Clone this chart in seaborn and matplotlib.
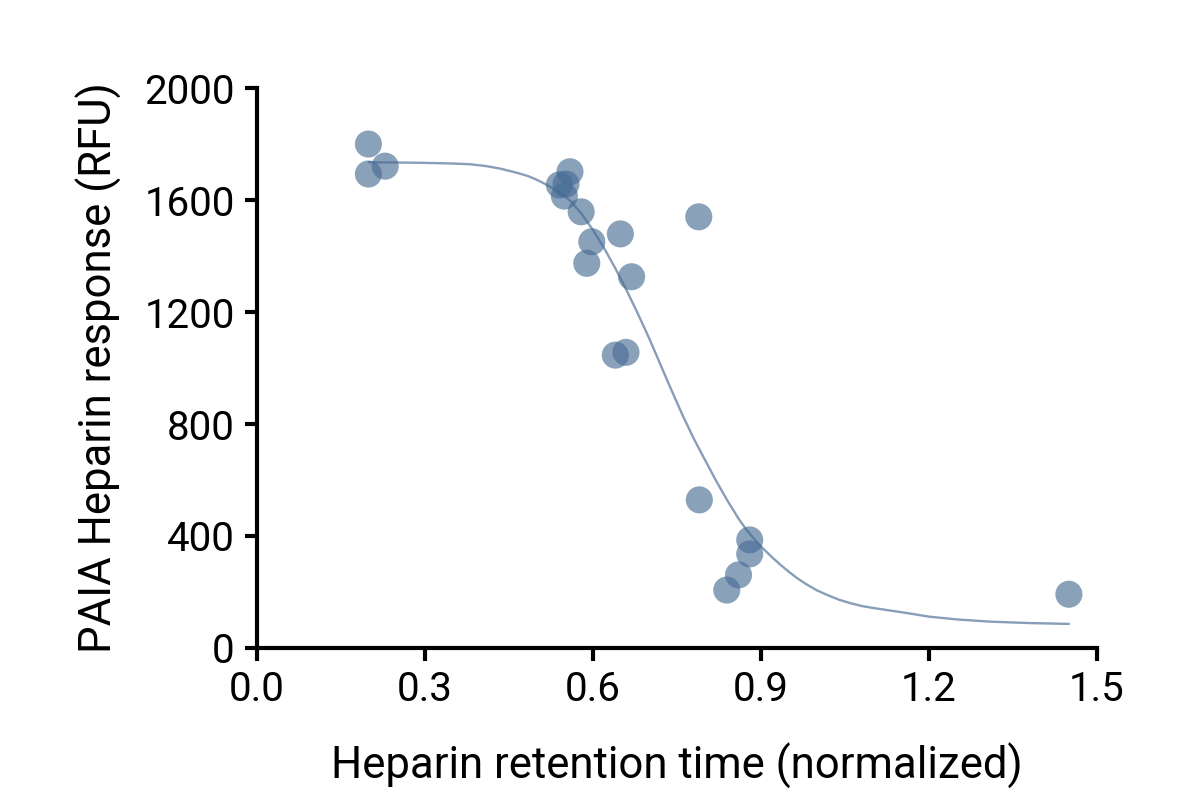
import numpy as np
import pandas as pd
import seaborn as sns
import matplotlib
matplotlib.use("Agg")
import matplotlib.pyplot as plt

retention = [0.199, 0.199, 0.229, 0.559, 0.540, 0.552, 0.549, 0.579, 0.598, 0.589,
             0.649, 0.669, 0.789, 0.640, 0.659, 0.790, 0.880, 0.880, 0.860, 0.839, 1.450]
response = [1800, 1693, 1721, 1701, 1654, 1657, 1614, 1558, 1451, 1374,
            1479, 1326, 1540, 1046, 1056, 529, 386, 336, 261, 207, 192]

# fitted curve
fit_x = [0.20, 0.25, 0.29, 0.34, 0.38, 0.41, 0.435, 0.455, 0.47, 0.485, 0.50, 0.515,
         0.53, 0.545, 0.56, 0.58, 0.60, 0.62, 0.64, 0.66, 0.68, 0.70, 0.72, 0.74,
         0.76, 0.78, 0.80, 0.82, 0.84, 0.86, 0.875, 0.89, 0.905, 0.92, 0.935, 0.95,
         0.965, 0.98, 1.00, 1.02, 1.04, 1.06, 1.08, 1.10, 1.13, 1.16, 1.20, 1.25,
         1.31, 1.38, 1.45]
fit_y = [1735, 1734, 1733, 1731, 1728, 1721, 1712, 1702, 1694, 1685, 1672, 1657,
         1640, 1620, 1597, 1550, 1493, 1428, 1356, 1278, 1195, 1108, 1015, 922,
         832, 748, 672, 597, 527, 462, 420, 385, 353, 324, 297, 272,
         249, 229, 206, 188, 172, 160, 150, 143, 134, 125, 112, 102,
         94, 89, 86]

df = pd.DataFrame({"x": retention, "y": response})
curve = pd.DataFrame({"x": fit_x, "y": fit_y})

sns.set_style("ticks")
plt.rcParams['font.family'] = ['Roboto', 'DejaVu Sans']
plt.rcParams['text.color'] = 'black'
plt.rcParams['axes.labelcolor'] = 'black'
plt.rcParams['xtick.color'] = 'black'
plt.rcParams['ytick.color'] = 'black'

fig = plt.figure(figsize=(11.82, 7.91), dpi=100)
ax = fig.add_axes([0.2174, 0.1808, 0.7106, 0.7079])

blue = "#466b93"
sns.lineplot(data=curve, x="x", y="y", ax=ax, color=blue, alpha=0.65, linewidth=1.7,
             sort=False, estimator=None)
sns.scatterplot(data=df, x="x", y="y", ax=ax, color=blue, alpha=0.63, s=380,
                edgecolor="none", zorder=3)

ax.set_xlim(0, 1.5)
ax.set_ylim(0, 2000)
ax.set_xticks([0.0, 0.3, 0.6, 0.9, 1.2, 1.5])
ax.set_xticklabels(["0.0", "0.3", "0.6", "0.9", "1.2", "1.5"])
ax.set_yticks([0, 400, 800, 1200, 1600, 2000])

sns.despine(ax=ax)
for side in ["left", "bottom"]:
    ax.spines[side].set_linewidth(3)
    ax.spines[side].set_color("black")
ax.tick_params(axis="both", length=9, width=3, labelsize=29, pad=7,
               color="black", labelcolor="black")

ax.set_xlabel("Heparin retention time (normalized)", fontsize=31.5, labelpad=24)
ax.set_ylabel("PAIA Heparin response (RFU)", fontsize=31.5, labelpad=16)

fig.savefig("out.png", dpi=100)
